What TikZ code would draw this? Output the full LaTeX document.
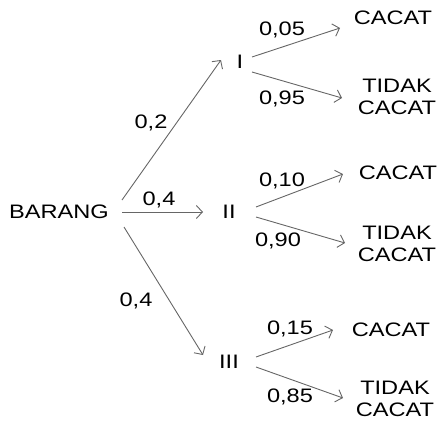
\documentclass[tikz,border=0pt]{standalone}
\usepackage{fontspec}
\setmainfont{Liberation Sans}[FakeStretch=1.21]
\usetikzlibrary{arrows.meta}
\begin{document}
\begin{tikzpicture}[x=1pt,y=1pt,
  txt/.style={inner sep=0pt,font=\fontsize{19.5}{21.5}\selectfont,align=center},
  arr/.style={draw=black!60,line width=0.9pt,-{Straight Barb[length=6pt,width=13pt]}}]
\useasboundingbox (0,0) rectangle (439,-423);
\node[txt] (barang) at (59,-212) {BARANG};
\node[txt] (n1) at (240,-62) {I};
\node[txt] (n2) at (229,-212) {II};
\node[txt] (n3) at (229,-362) {III};
\node[txt] (c1) at (393,-18) {CACAT};
\node[txt] (t1) at (397,-97) {TIDAK\\CACAT};
\node[txt] (c2) at (398,-173) {CACAT};
\node[txt] (t2) at (397,-244) {TIDAK\\CACAT};
\node[txt] (c3) at (391,-330) {CACAT};
\node[txt] (t3) at (395,-399) {TIDAK\\CACAT};
% labels
\node[txt] (p1) at (151,-123) {0,2};
\node[txt] (p2) at (159,-200) {0,4};
\node[txt] (p3) at (136,-301) {0,4};
\node[txt] (q1) at (282,-30) {0,05};
\node[txt] (q2) at (282,-99) {0,95};
\node[txt] (q3) at (282,-181) {0,10};
\node[txt] (q4) at (278,-241) {0,90};
\node[txt] (q5) at (290,-329) {0,15};
\node[txt] (q6) at (290,-397) {0,85};
% connectors
\draw[arr] ([shift={(63,12)}]barang.center) -- ([shift={(-19,2)}]n1.center);
\draw[arr] ([shift={(63,0)}]barang.center) -- ([shift={(-26,0)}]n2.center);
\draw[arr] ([shift={(65,-15)}]barang.center) -- ([shift={(-26,7)}]n3.center);
\draw[arr] ([shift={(12,5)}]n1.center) -- ([shift={(-53,-10)}]c1.center);
\draw[arr] ([shift={(12,-10)}]n1.center) -- ([shift={(-55,-1)}]t1.center);
\draw[arr] ([shift={(27,5)}]n2.center) -- ([shift={(-55,-1)}]c2.center);
\draw[arr] ([shift={(27,-5)}]n2.center) -- ([shift={(-52,1)}]t2.center);
\draw[arr] ([shift={(27,5)}]n3.center) -- ([shift={(-58,0)}]c3.center);
\draw[arr] ([shift={(27,-5)}]n3.center) -- ([shift={(-52,1)}]t3.center);
\end{tikzpicture}
\end{document}
